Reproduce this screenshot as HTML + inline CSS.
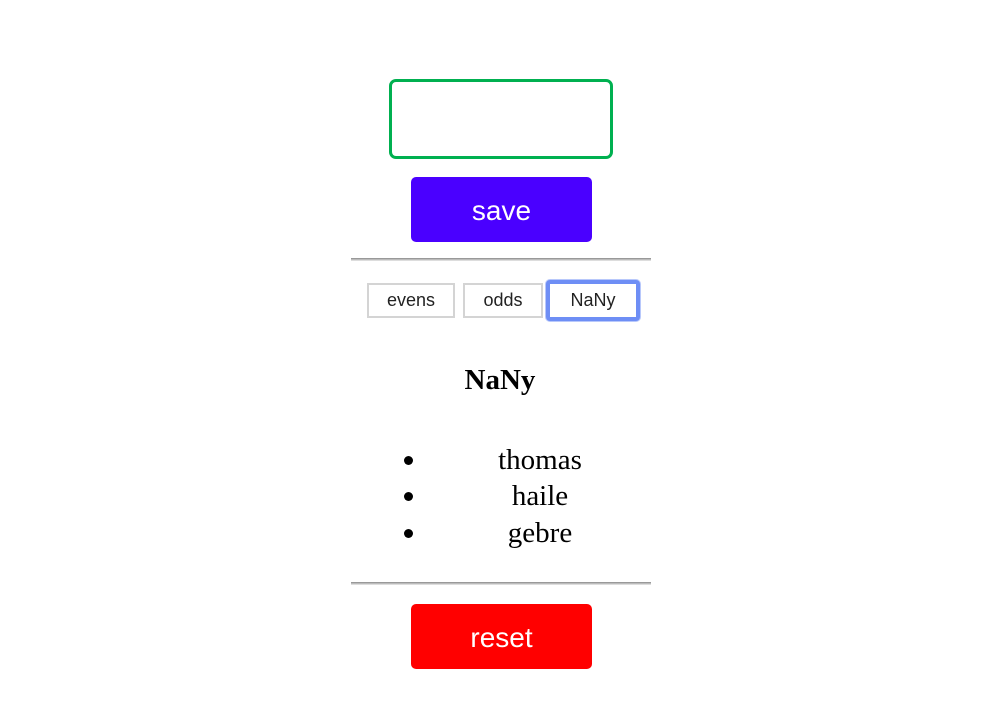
<!DOCTYPE html>
<html><head><style>
body{margin:0;width:988px;height:705px;background:#fff;position:relative;font-family:"Liberation Sans",sans-serif;}
.a{position:absolute;box-sizing:border-box;}
.btn{border:2px solid #d4d4d4;background:#fff;font-size:18px;color:#222;text-align:center;line-height:30px;}
.s{font-family:"Liberation Serif",serif;font-size:29px;color:#000;}
.dot{width:9px;height:9px;border-radius:50%;background:#000;}
</style></head><body>
<div class="a" style="left:389px;top:79px;width:224px;height:80px;border:3px solid #00b050;border-radius:7px;"></div>
<div class="a" style="left:411px;top:177px;width:181px;height:65px;background:#4a00ff;border-radius:5px;color:#fff;font-size:28px;text-align:center;line-height:67px;">save</div>
<div class="a" style="left:351px;top:258px;width:300px;height:3px;border-top:1px solid #999;border-bottom:1px solid #ddd;background:#bbb;"></div>
<div class="a btn" style="left:367px;top:283px;width:88px;height:35px;">evens</div>
<div class="a btn" style="left:463px;top:283px;width:80px;height:35px;">odds</div>
<div class="a btn" style="left:546px;top:280px;width:94px;height:41px;border:4px solid #6e8ef5;border-radius:4px;box-shadow:0 0 0 1px #b8c8fb;line-height:33px;">NaNy</div>
<div class="a s" style="left:400px;top:364px;width:200px;text-align:center;font-weight:bold;">NaNy</div>
<div class="a dot" style="left:404px;top:456px;"></div>
<div class="a dot" style="left:404px;top:492px;"></div>
<div class="a dot" style="left:404px;top:529px;"></div>
<div class="a s" style="left:440px;top:444px;width:200px;text-align:center;">thomas</div>
<div class="a s" style="left:440px;top:480px;width:200px;text-align:center;">haile</div>
<div class="a s" style="left:440px;top:517px;width:200px;text-align:center;">gebre</div>
<div class="a" style="left:351px;top:582px;width:300px;height:3px;border-top:1px solid #999;border-bottom:1px solid #ddd;background:#bbb;"></div>
<div class="a" style="left:411px;top:604px;width:181px;height:65px;background:#ff0000;border-radius:5px;color:#fff;font-size:28px;text-align:center;line-height:67px;">reset</div>
</body></html>
